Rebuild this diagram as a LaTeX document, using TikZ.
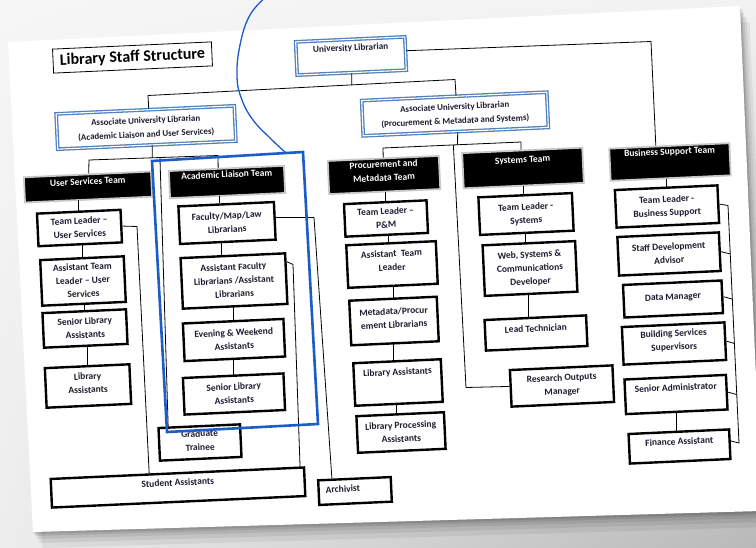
\documentclass[tikz,border=0pt]{standalone}
\usepackage{fontspec}
\setmainfont{Carlito}
\usetikzlibrary{calc,shadings}
\definecolor{ublue}{HTML}{4F81BD}
\definecolor{hblue}{HTML}{1C5CC8}
\definecolor{txt}{HTML}{1C1C30}
\newcommand\tx[2][0]{\raisebox{\dimexpr #1pt-2.3pt\relax}[0pt][0pt]{\begin{tabular}{@{}c@{}}#2\end{tabular}}}
\tikzset{
  boxfont/.style={font=\fontsize{9.5}{13.5}\selectfont\bfseries},
  aulfont/.style={font=\fontsize{8.9}{14}\selectfont\bfseries},
  wbox/.style={draw=black, line width=2.4pt, fill=white, inner sep=0pt, rotate=2.6, text=txt, boxfont},
  bbox/.style={draw=black!22, line width=1.8pt, fill=black, inner sep=0pt, rotate=2.6, text=white, boxfont},
  dbox/.style={draw=ublue, line width=1.3pt, double=white, double distance=1.1pt, fill=white, inner sep=0pt, rotate=2.6, text=txt, aulfont},
  tbox/.style={draw=black, line width=0.8pt, fill=white, inner sep=0pt, rotate=2.6, text=black, font=\fontsize{16}{18}\selectfont\bfseries},
  conn/.style={draw=black, line width=0.8pt},
  hl/.style={draw=hblue, line width=2.6pt, line join=miter},
  ws/.style 2 args={minimum width=#1pt-2.4pt, minimum height=#2pt-2.4pt},
  bs/.style 2 args={minimum width=#1pt-1.8pt, minimum height=#2pt-1.8pt},
  ds/.style 2 args={minimum width=#1pt-3.7pt, minimum height=#2pt-3.7pt},
}
\begin{document}
\begin{tikzpicture}[x=1pt,y=-1pt]
\path[use as bounding box] (0,0) rectangle (756,547);
% background and paper
\shade[upper left=gray!7, upper right=gray!10, lower left=gray!14, lower right=gray!55] (0,0) rectangle (756,547);
\foreach \d/\o in {2/0.10,4/0.09,7/0.08,11/0.07,16/0.06}{
  \fill[black, opacity=\o] ($(8,42)+(\d*0.6,\d)$) -- ($(740,6)+(\d*0.6,\d)$) -- ($(760,470)+(\d*0.6,\d)$) -- ($(760,511)+(\d*0.6,\d)$) -- ($(33,532)+(\d*0.6,\d)$) -- cycle;
}
\fill[white] (8,42) -- (740,6) -- (760,470) -- (760,511) -- (33,532) -- cycle;

% title
\node[tbox, minimum width=159pt, minimum height=24pt] (title) at (132.5,57.5) {Library Staff Structure};

% top level
\node[dbox, ds={113}{37}] (ul) at (351,56) {\tx[8]{\fontsize{9.3}{13}\selectfont University Librarian}};
\node[dbox, ds={182}{39}] (aul1) at (146,127.5) {\tx{Associate University Librarian\\(Academic Liaison and User Services)}};
\node[dbox, ds={189}{39}] (aul2) at (455,114) {\tx{Associate University Librarian\\(Procurement \& Metadata and Systems)}};

% teams
\node[bbox, bs={129}{27}] (ust) at (88,187) {\tx[5]{User Services Team}};
\node[bbox, bs={117}{29}] (alt) at (227,182) {\tx[7]{Academic Liaison Team}};
\node[bbox, bs={113}{35}] (pmt) at (384,175) {\tx[3.5]{Procurement and\\Metadata Team}};
\node[bbox, bs={122}{37}] (st) at (523,168) {\tx[8]{Systems Team}};
\node[bbox, bs={122}{34}] (bst) at (670,162) {\tx[10]{Business Support Team}};

% user services
\node[wbox, ws={86}{35}] (tlus) at (79.5,228) {\tx{Team Leader –\\User Services}};
\node[wbox, ws={86}{48}] (atlus) at (83,281) {\tx{Assistant Team\\Leader – User\\Services}};
\node[wbox, ws={86}{37}] (slaus) at (85,328.5) {\tx{Senior Library\\Assistants}};
\node[wbox, ws={87}{42}] (laus) at (88,386) {\tx[2.5]{Library\\Assistants}};

% academic liaison
\node[wbox, ws={98}{40}] (fml) at (227,223) {\tx{Faculty/Map/Law\\Librarians}};
\node[wbox, ws={107}{53}] (afl) at (234,281) {\tx{Assistant Faculty\\Librarians /Assistant\\Librarians}};
\node[wbox, ws={103}{40}] (ewa) at (234,340) {\tx{Evening \& Weekend\\Assistants}};
\node[wbox, ws={103}{39}] (slaal) at (234,394) {\tx{Senior Library\\Assistants}};
\node[wbox, ws={84}{35}] (gt) at (200,442.5) {\tx[1.5]{Graduate\\Trainee}};
\node[wbox, ws={256}{31}] (sa) at (178,487.5) {\tx[4.5]{Student Assistants}};
\node[wbox, ws={75}{27}] (arch) at (355,491) {\tx[2]{Archivist\hspace*{24pt}}};

% procurement
\node[wbox, ws={85}{35}] (tlpm) at (386,218.5) {\tx{Team Leader –\\P\&M}};
\node[wbox, ws={92}{45}] (atl) at (392,264.5) {\tx[3.5]{Assistant~ Team\\Leader}};
\node[wbox, ws={90}{47}] (mpl) at (394,321) {\tx[2.5]{Metadata/Procur\\ement Librarians}};
\node[wbox, ws={90}{45}] (lap) at (398,382.5) {\tx[10]{Library Assistants}};
\node[wbox, ws={90}{39}] (lpa) at (401,432.5) {\tx{Library Processing\\Assistants}};

% systems
\node[wbox, ws={96}{40}] (tls) at (526,214) {\tx{Team Leader -\\Systems}};
\node[wbox, ws={95}{53}] (wscd) at (530,268.5) {\tx{Web, Systems \&\\Communications\\Developer}};
\node[wbox, ws={104}{33}] (lt) at (536,333) {\tx[4]{Lead Technician}};
\node[wbox, ws={105}{39}] (rom) at (562,386) {\tx[1]{Research Outputs\\Manager}};

% business
\node[wbox, ws={105}{40}] (tlbs) at (667,206.5) {\tx{Team Leader -\\Business Support}};
\node[wbox, ws={104}{41}] (sda) at (669,254) {\tx{Staff Development\\Advisor}};
\node[wbox, ws={101}{35}] (dm) at (673,299) {\tx[2]{Data Manager}};
\node[wbox, ws={105}{40}] (bss) at (674,343.5) {\tx[3]{Building Services\\Supervisors}};
\node[wbox, ws={104}{37}] (sadm) at (676,394.5) {\tx[6.5]{Senior Administrator}};
\node[wbox, ws={103}{32}] (fa) at (679.5,446.5) {\tx[4.5]{Finance Assistant}};

% ---- connectors ----
\coordinate (hL) at (148,95.5);
\coordinate (hR) at (455,79.5);
\draw[conn] (ul.south) -- ($(hL)!0.664!(hR)$);
\draw[conn] ($(aul1.north west)!0.52!(aul1.north east)$) -- (hL) -- (hR) -- ($(aul2.north west)!0.51!(aul2.north east)$);
\coordinate (cB) at (651,41.5);
\draw[conn] ($(ul.north east)!0.42!(ul.south east)$) -- (cB) -- ($(bst.north west)!0.39!(bst.north east)$);

\coordinate (hA1) at (89,160);
\coordinate (hA2) at (218,155.5);
\draw[conn] ($(aul1.south west)!0.53!(aul1.south east)$) -- ($(hA1)!0.49!(hA2)$);
\draw[conn] ($(ust.north west)!0.51!(ust.north east)$) -- (hA1) -- (hA2) -- ($(alt.north west)!0.43!(alt.north east)$);
\draw[conn] ($(hA1)!0.55!(hA2)$) -- ($(gt.north west)!0.13!(gt.north east)$);

\coordinate (hP1) at (383,148);
\coordinate (hP2) at (521,142);
\draw[conn] ($(aul2.south west)!0.51!(aul2.south east)$) -- ($(hP1)!0.54!(hP2)$);
\draw[conn] ($(pmt.north west)!0.5!(pmt.north east)$) -- (hP1) -- (hP2) -- ($(st.north west)!0.49!(st.north east)$);
\coordinate (cR) at (466,387.5);
\draw[conn] ($(hP1)!0.51!(hP2)$) -- (cR) -- ($(rom.north west)!0.45!(rom.south west)$);

% user services column
\draw[conn] (tlus.north) -- (tlus.north |- ust.south);
\draw[conn] (atlus.north) -- (atlus.north |- tlus.south);
\draw[conn] (slaus.north) -- (slaus.north |- atlus.south);
\draw[conn] (laus.north) -- (laus.north |- slaus.south);
\coordinate (cU1) at (137,226.5);
\draw[conn] (tlus.east) -- (cU1) -- ($(sa.north west)!0.39!(sa.north east)$);

% academic liaison column
\coordinate (fmlT) at ($(fml.north west)!0.43!(fml.north east)$);
\draw[conn] (fmlT) -- (fmlT |- alt.south);
\coordinate (aflT) at ($(afl.north west)!0.39!(afl.north east)$);
\draw[conn] (aflT) -- (aflT |- fml.south);
\draw[conn] (ewa.north) -- (ewa.north |- afl.south);
\draw[conn] (slaal.north) -- (slaal.north |- ewa.south);
\coordinate (cA1) at (314,217.5);
\draw[conn] ($(fml.north east)!0.42!(fml.south east)$) -- (cA1) -- ($(arch.north west)!0.2!(arch.north east)$);
\coordinate (cA2) at (293,264.5);
\draw[conn] ($(afl.north east)!0.18!(afl.south east)$) -- (cA2) -- ($(sa.north west)!0.98!(sa.north east)$);

% procurement column
\draw[conn] (tlpm.north) -- (tlpm.north |- pmt.south);
\coordinate (atlT) at ($(atl.north west)!0.47!(atl.north east)$);
\draw[conn] (atlT) -- (atlT |- tlpm.south);
\draw[conn] (mpl.north) -- (mpl.north |- atl.south);
\coordinate (lapT) at ($(lap.north west)!0.46!(lap.north east)$);
\draw[conn] (lapT) -- (lapT |- mpl.south);
\coordinate (lpaT) at ($(lpa.north west)!0.46!(lpa.north east)$);
\draw[conn] (lpaT) -- (lpaT |- lap.south);

% systems column
\coordinate (tlsT) at ($(tls.north west)!0.48!(tls.north east)$);
\draw[conn] (tlsT) -- (tlsT |- st.south);
\coordinate (wscdT) at ($(wscd.north west)!0.46!(wscd.north east)$);
\draw[conn] (wscdT) -- (wscdT |- tls.south);
\coordinate (ltT) at ($(lt.north west)!0.43!(lt.north east)$);
\draw[conn] (ltT) -- (ltT |- wscd.south);

% business column
\draw[conn] (tlbs.north) -- (tlbs.north |- bst.south);
\coordinate (cT) at (728,205.5);
\coordinate (cF) at (739,443);
\draw[conn] (tlbs.east) -- (cT) -- (cF) -- ($(fa.north east)!0.4!(fa.south east)$);
\draw[conn] (sda.east) -- ($(cT)!0.204!(cF)$);
\draw[conn] (dm.east) -- ($(cT)!0.394!(cF)$);
\draw[conn] (bss.east) -- ($(cT)!0.581!(cF)$);
\draw[conn] (sadm.east) -- ($(cT)!0.796!(cF)$);
\coordinate (faT) at ($(fa.north west)!0.48!(fa.north east)$);
\draw[conn] (faT) -- (faT |- sadm.south);

% blue highlight
\draw[hl] (152,161) -- (303,152) -- (318,424) -- (167,432) -- cycle;
\draw[draw=hblue, line width=1.3pt] plot[smooth, tension=0.7] coordinates {(267,-4) (250,15) (240,45) (237,77) (242,100) (253,120) (270,138) (286,153)};
\end{tikzpicture}
\end{document}
